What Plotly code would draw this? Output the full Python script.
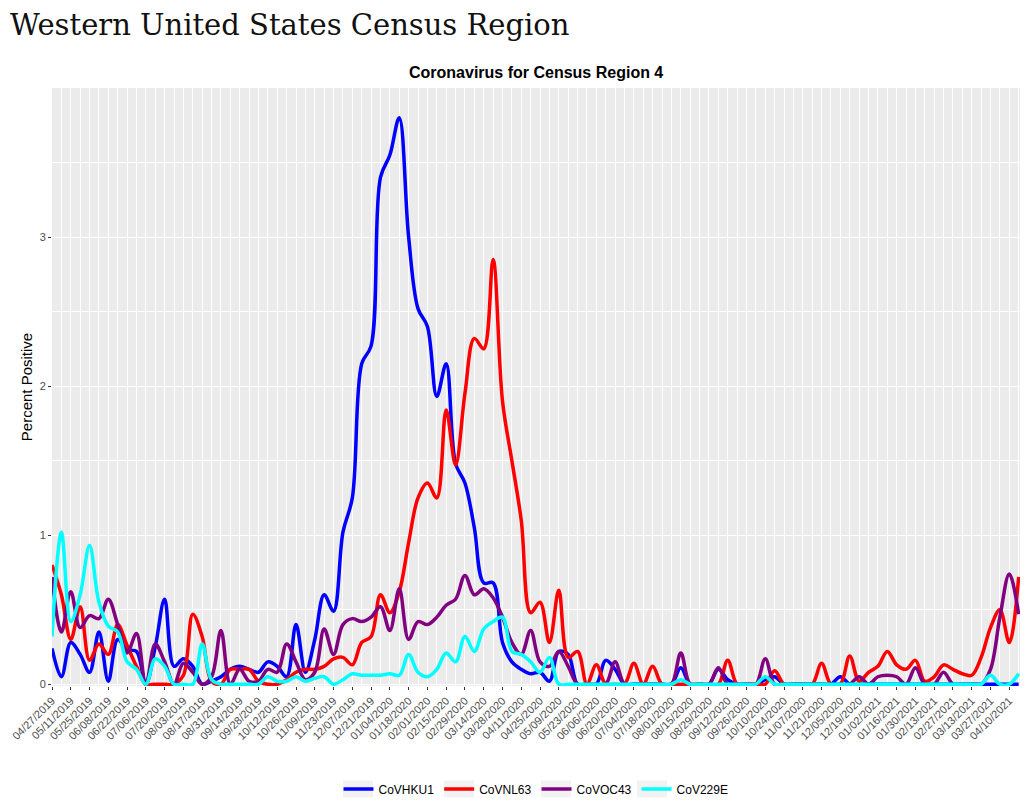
import pandas as pd
import plotly.graph_objects as go

start_date = "2019-04-27"
n_weeks = 104
weeks = pd.date_range(start_date, periods=n_weeks, freq="7D")

series_names = ["CoVHKU1", "CoVNL63", "CoVOC43", "CoV229E"]
series_colors = ["#0000FF", "#FF0000", "#800080", "#00FFFF"]

hku1 = [0.24, 0.05, 0.28, 0.2, 0.08, 0.35, 0.02, 0.3, 0.23, 0.22,
        0.0, 0.25, 0.57, 0.12, 0.17, 0.12, 0.0, 0.02, 0.05, 0.1,
        0.12, 0.1, 0.08, 0.15, 0.12, 0.05, 0.4, 0.08, 0.3, 0.6,
        0.49, 1.02, 1.25, 2.15, 2.27, 3.4, 3.55, 3.8, 3.0, 2.52,
        2.4, 1.93, 2.15, 1.48, 1.35, 1.05, 0.68, 0.68, 0.28, 0.15,
        0.1, 0.07, 0.08, 0.02, 0.22, 0.2, 0.0, 0.0, 0.0, 0.16,
        0.1, 0.0, 0.0, 0.0, 0.0, 0.0, 0.0, 0.11, 0.0, 0.0,
        0.0, 0.1, 0.03, 0.0, 0.0, 0.0, 0.03, 0.05, 0.0, 0.0,
        0.0, 0.0, 0.0, 0.0, 0.05, 0.0, 0.0, 0.0, 0.0, 0.0,
        0.0, 0.0, 0.0, 0.0, 0.0, 0.0, 0.0, 0.0, 0.0, 0.0,
        0.0, 0.0, 0.0, 0.0]

nl63 = [0.8, 0.6, 0.3, 0.52, 0.16, 0.27, 0.2, 0.4, 0.26, 0.12,
        0.0, 0.0, 0.0, 0.0, 0.06, 0.47, 0.32, 0.02, 0.0, 0.1,
        0.1, 0.1, 0.02, 0.0, 0.0, 0.03, 0.08, 0.1, 0.1, 0.12,
        0.17, 0.18, 0.13, 0.28, 0.32, 0.6, 0.48, 0.62, 0.95, 1.25,
        1.35, 1.25, 1.84, 1.47, 1.95, 2.32, 2.25, 2.85, 1.9, 1.5,
        1.1, 0.48, 0.55, 0.28, 0.63, 0.18, 0.22, 0.0, 0.13, 0.0,
        0.0, 0.0, 0.14, 0.0, 0.12, 0.0, 0.0, 0.0, 0.0, 0.0,
        0.0, 0.0, 0.16, 0.0, 0.0, 0.0, 0.0, 0.09, 0.0, 0.0,
        0.0, 0.0, 0.14, 0.0, 0.0, 0.19, 0.02, 0.08, 0.12, 0.22,
        0.13, 0.1, 0.16, 0.02, 0.05, 0.13, 0.1, 0.07, 0.06, 0.18,
        0.38, 0.5, 0.28, 0.72]

oc43 = [0.72, 0.35, 0.62, 0.38, 0.46, 0.44, 0.57, 0.4, 0.21, 0.34,
        0.0, 0.27, 0.15, 0.0, 0.14, 0.08, 0.0, 0.05, 0.36, 0.0,
        0.1, 0.02, 0.02, 0.1, 0.08, 0.27, 0.15, 0.03, 0.08, 0.37,
        0.2, 0.4, 0.44, 0.42, 0.45, 0.52, 0.36, 0.64, 0.3, 0.42,
        0.4, 0.45, 0.53, 0.57, 0.73, 0.6, 0.64, 0.58, 0.45, 0.28,
        0.2, 0.36, 0.15, 0.12, 0.22, 0.12, 0.0, 0.0, 0.0, 0.0,
        0.15, 0.0, 0.0, 0.0, 0.0, 0.0, 0.0, 0.21, 0.0, 0.0,
        0.0, 0.11, 0.0, 0.0, 0.0, 0.0, 0.17, 0.0, 0.0, 0.0,
        0.0, 0.0, 0.0, 0.0, 0.0, 0.0, 0.05, 0.0, 0.05, 0.06,
        0.05, 0.0, 0.11, 0.0, 0.0, 0.08, 0.0, 0.0, 0.0, 0.0,
        0.1, 0.45, 0.74, 0.47]

cov229e = [0.32, 1.02, 0.42, 0.6, 0.93, 0.55, 0.39, 0.35, 0.15, 0.1,
           0.0, 0.17, 0.12, 0.0, 0.0, 0.0, 0.27, 0.03, 0.0, 0.0,
           0.0, 0.0, 0.0, 0.05, 0.02, 0.02, 0.05, 0.02, 0.04, 0.05,
           0.0, 0.03, 0.07, 0.06, 0.06, 0.06, 0.07, 0.06, 0.2, 0.08,
           0.05, 0.1, 0.21, 0.15, 0.32, 0.22, 0.37, 0.42, 0.45, 0.22,
           0.2, 0.15, 0.08, 0.18, 0.0, 0.0, 0.0, 0.0, 0.0, 0.0,
           0.0, 0.0, 0.0, 0.0, 0.0, 0.0, 0.0, 0.03, 0.0, 0.0,
           0.0, 0.0, 0.0, 0.0, 0.0, 0.0, 0.05, 0.0, 0.0, 0.0,
           0.0, 0.0, 0.0, 0.0, 0.0, 0.0, 0.0, 0.0, 0.0, 0.0,
           0.0, 0.0, 0.0, 0.0, 0.0, 0.0, 0.0, 0.0, 0.0, 0.0,
           0.06, 0.0, 0.0, 0.07]

y_tick_values = [0, 1, 2, 3]
series_values = [hku1, nl63, oc43, cov229e]

fig = go.Figure()
for name, color, vals in zip(series_names, series_colors, series_values):
    fig.add_trace(go.Scatter(
        x=weeks, y=vals, name=name, mode="lines",
        line=dict(color=color, width=3.5, shape="spline", smoothing=1.0),
    ))

WEEK_MS = 7 * 24 * 3600 * 1000

# the page body adds an 8px offset, so margins are shifted to compensate
PLOT_L, PLOT_W, PLOT_B, PLOT_H = 52, 968, 686, 598   # page pixels


def px_x(page_x):
    return (page_x - PLOT_L) / PLOT_W


def px_y(page_y):
    return (PLOT_B - page_y) / PLOT_H


# light grey boxes behind the legend keys (ggplot legend.key style)
legend_key_centers = [358, 459, 556, 652]
key_shapes = [dict(type="rect", xref="paper", yref="paper", layer="below",
                   x0=px_x(c - 15), x1=px_x(c + 15),
                   y0=px_y(797.5), y1=px_y(780.5),
                   fillcolor="#F2F2F2", line=dict(width=0))
              for c in legend_key_centers]

fig.update_layout(
    width=1033, height=811,
    paper_bgcolor="white", plot_bgcolor="#EBEBEB",
    margin=dict(l=44, r=21, t=80, b=133, autoexpand=False),
    font=dict(family="Liberation Sans, Arial, sans-serif", color="#4D4D4D"),
    title=dict(text="Western United States Census Region",
               x=2 / 1033, xanchor="left", xref="container",
               y=1 - 17 / 811, yanchor="middle", yref="container",
               font=dict(family="DejaVu Serif, serif", size=29, color="#111111")),
    showlegend=True,
    legend=dict(orientation="h", x=0.5, xanchor="center", xref="paper",
                y=1 - 781 / 811, yanchor="middle", yref="container",
                font=dict(size=12, color="#000000"),
                bgcolor="rgba(0,0,0,0)"),
    shapes=key_shapes,
    annotations=[dict(text="<b>Coronavirus for Census Region 4</b>",
                      x=0.5, xref="paper", xanchor="center",
                      y=1 + 15 / 598, yref="paper", yanchor="middle",
                      showarrow=False,
                      font=dict(family="Liberation Sans, Arial, sans-serif",
                                size=16, color="#000000"))],
)

fig.update_xaxes(
    type="date", automargin=False,
    range=["2019-04-27", "2021-04-18"],
    tick0=start_date, dtick=2 * WEEK_MS,
    tickformat="%m/%d/%Y", tickangle=-45,
    tickfont=dict(size=11, color="#4D4D4D"),
    ticks="outside", ticklen=3, tickcolor="#333333", tickwidth=1,
    showgrid=True, gridcolor="white", gridwidth=1.1,
    minor=dict(tick0=start_date, dtick=WEEK_MS, showgrid=True,
               gridcolor="white", gridwidth=0.5, ticks=""),
    zeroline=False, showline=False,
)

fig.update_yaxes(
    automargin=False,
    range=[-0.012, 4.0],
    tickmode="array", tickvals=y_tick_values,
    tickfont=dict(size=11, color="#4D4D4D"),
    ticks="outside", ticklen=3, tickcolor="#333333", tickwidth=1,
    showgrid=True, gridcolor="white", gridwidth=1.1,
    minor=dict(tick0=0, dtick=0.5, showgrid=True,
               gridcolor="white", gridwidth=0.5, ticks=""),
    zeroline=False, showline=False,
    title=dict(text="Percent Positive", standoff=3,
               font=dict(size=15, color="#000000")),
)

fig.write_html("out.html")
